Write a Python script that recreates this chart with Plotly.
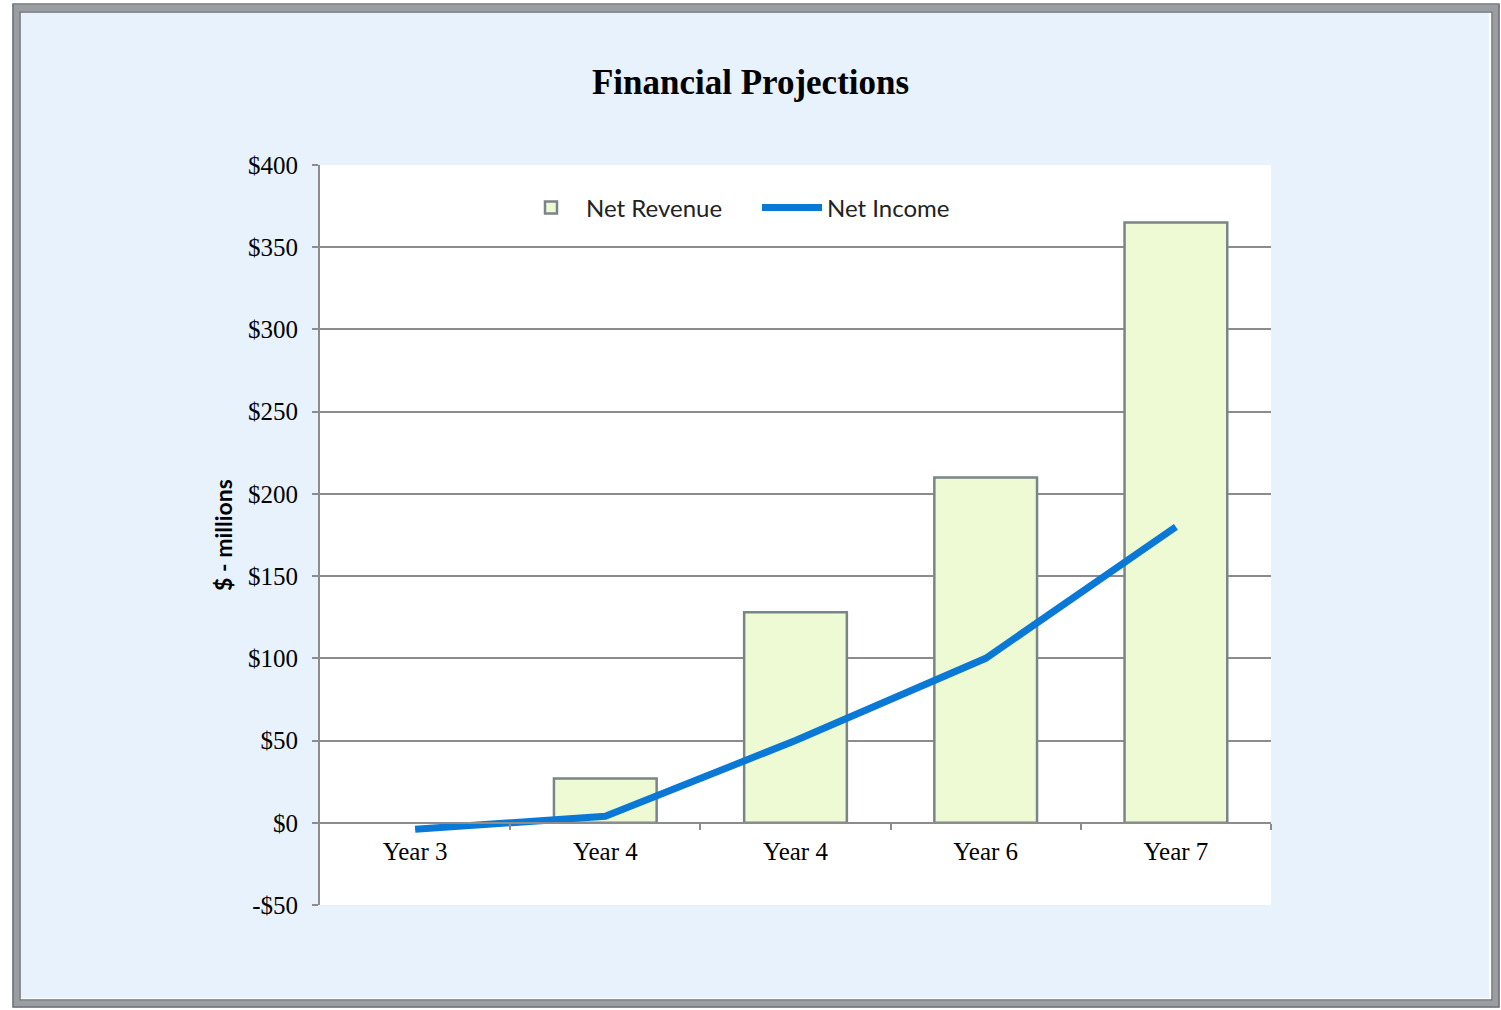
import plotly.graph_objects as go

# ---- data ----
categories = ["Year 3", "Year 4", "Year 4", "Year 6", "Year 7"]
net_revenue = [None, 27, 128, 210, 365]
net_income = [-4, 4, 50, 100, 180]
y_tick_values = [-50, 0, 50, 100, 150, 200, 250, 300, 350, 400]
y_tick_labels = ["-$50", "$0", "$50", "$100", "$150", "$200", "$250", "$300", "$350", "$400"]

W, H = 1501, 1010
ML, MR, MT, MB = 320, 230, 165, 105
PW, PH = W - ML - MR, H - MT - MB

def px_x(p):
    return (p - ML) / PW

def px_y(p):
    return (H - MB - p) / PH

xpos = list(range(len(categories)))
boundaries = [i + 0.5 for i in xpos]

fig = go.Figure()
fig.add_trace(go.Bar(
    x=xpos, y=net_revenue, name="Net Revenue", width=0.54,
    marker=dict(color="#EEFAD4", line=dict(color="#7A8588", width=2.5)),
))
fig.add_trace(go.Scatter(
    x=xpos, y=net_income, name="Net Income", mode="lines",
    line=dict(color="#0A78D6", width=7),
))

serif = "Liberation Serif, Times New Roman, serif"
sans = "Lato, Liberation Sans, Arial, sans-serif"
grid = "#8C8C8C"

fig.update_layout(
    width=W, height=H,
    margin=dict(l=ML, r=MR, t=MT, b=MB, pad=0),
    paper_bgcolor="#E8F2FC",
    plot_bgcolor="#FFFFFF",
    title=dict(text="<b>Financial Projections</b>", x=0.5, xref="container", xanchor="center",
               y=1 - 82 / H, yref="container", yanchor="middle",
               font=dict(family=serif, size=35, color="#000000")),
    showlegend=True,
    legend=dict(orientation="h", x=px_x(516), xanchor="left", y=px_y(208), yanchor="middle",
                bgcolor="rgba(0,0,0,0)", font=dict(family=sans, size=24, color="#222222"),
                itemwidth=60, traceorder="normal", entrywidth=166, entrywidthmode="pixels"),
    bargap=0.46,
    xaxis=dict(
        range=[-0.5, len(categories) - 0.5],
        tickvals=xpos, ticktext=categories, ticks="",
        tickfont=dict(family=serif, size=25, color="#000000"),
        showline=True, linecolor=grid, linewidth=2,
        showgrid=False, zeroline=False,
        anchor="free", position=50 / 450,
        ticklabelstandoff=6,
        minor=dict(tickvals=boundaries, ticks="outside", ticklen=6, tickcolor=grid, tickwidth=2, showgrid=False),
        fixedrange=True,
    ),
    yaxis=dict(
        range=[-50, 400],
        tickvals=y_tick_values, ticktext=y_tick_labels,
        tickfont=dict(family=serif, size=25, color="#000000"),
        ticks="outside", ticklen=6, tickcolor=grid, tickwidth=2,
        showline=True, linecolor=grid, linewidth=2,
        showgrid=True, gridcolor=grid, gridwidth=2,
        zeroline=False,
        title=dict(text="<b>$ - millions</b>", standoff=9,
                   font=dict(family=sans, size=23, color="#000000")),
        ticklabelstandoff=9,
    ),
)

shapes = [
    # white outside margin
    dict(type="rect", xref="paper", yref="paper",
         x0=px_x(0), x1=px_x(W), y0=px_y(H), y1=px_y(0),
         line=dict(color="#FFFFFF", width=24), fillcolor="rgba(0,0,0,0)", layer="above"),
    # gray bevel frame
    dict(type="rect", xref="paper", yref="paper",
         x0=px_x(16), x1=px_x(1496), y0=px_y(1004), y1=px_y(8),
         line=dict(color="#9A9EA3", width=7), fillcolor="rgba(0,0,0,0)", layer="above"),
    dict(type="rect", xref="paper", yref="paper",
         x0=px_x(13), x1=px_x(1499), y0=px_y(1007), y1=px_y(4),
         line=dict(color="#6F7378", width=1.5), fillcolor="rgba(0,0,0,0)", layer="above"),
    dict(type="rect", xref="paper", yref="paper",
         x0=px_x(20), x1=px_x(1492), y0=px_y(1000), y1=px_y(12),
         line=dict(color="#6F7378", width=1.5), fillcolor="rgba(0,0,0,0)", layer="above"),
]
fig.update_layout(shapes=shapes)

fig.write_html(
    "out.html",
    config={"displayModeBar": False},
    post_script="document.body.style.margin='0';document.body.style.overflow='hidden';",
)
